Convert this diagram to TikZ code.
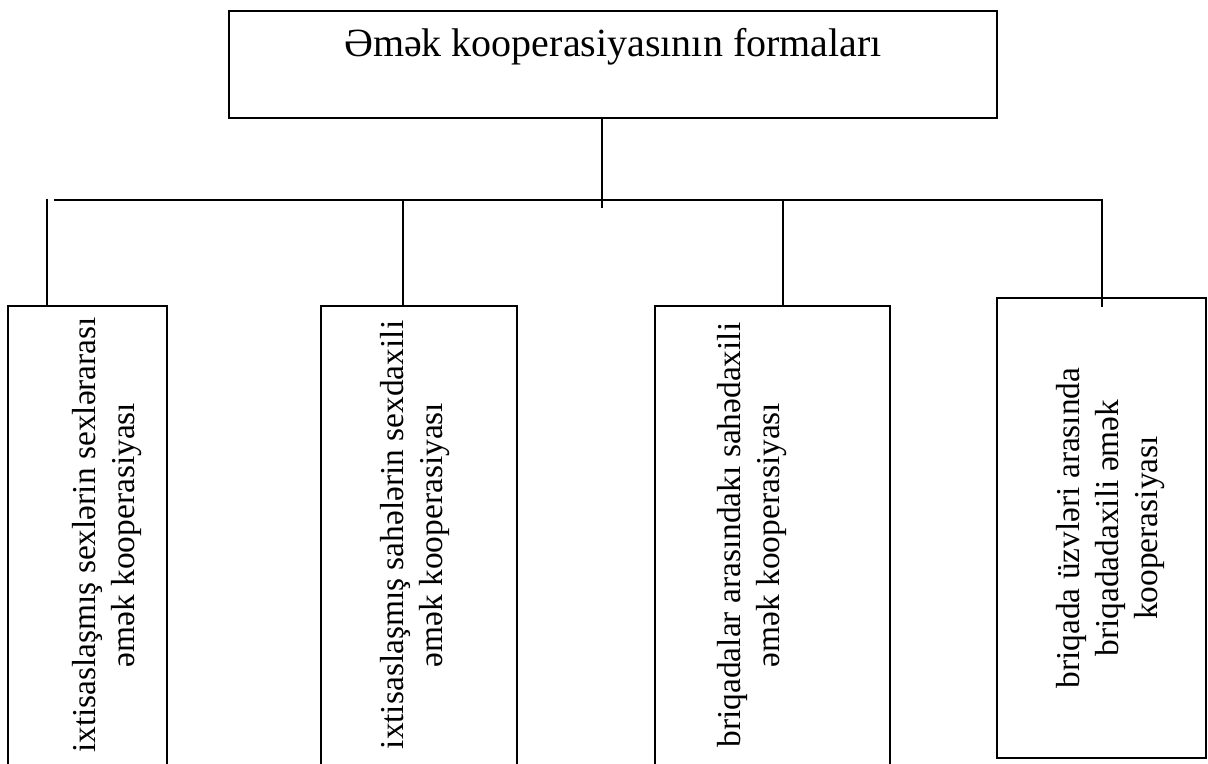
\documentclass[tikz,border=0pt]{standalone}
\usepackage{fontspec}
\setmainfont{Liberation Serif}
\usepackage{tikz}

\begin{document}
\begin{tikzpicture}[x=0.5pt,y=0.5pt,
	box/.style={draw, line width=1pt, inner sep=0pt, minimum height=237pt},
	vtext/.style={rotate=90, align=center, inner sep=0pt, font=\fontsize{16.7pt}{19.5pt}\selectfont},
	link/.style={line width=1pt}]

	\useasboundingbox (0,0) rectangle (1208,764);

	% Title box
	\node[draw, line width=1.2pt, inner xsep=0pt, inner ysep=0pt, minimum width=384pt,
		text height=22.5pt, text depth=31pt, anchor=north,
		font=\fontsize{20pt}{24pt}\selectfont] (title) at (613,754) {Əmək kooperasiyasının formaları};

	% Lower boxes
	\node[box, minimum width=79.5pt] (b1) at (87.5,221) {};
	\node[box, minimum width=98pt] (b2) at (419,221) {};
	\node[box, minimum width=117.5pt] (b3) at (772.5,221) {};
	\node[box, minimum width=104.5pt, minimum height=230pt] (b4) at (1101.5,236) {};

	% Labels
	\node[vtext] (t1) at (107,229) {ixtisaslaşmış sexlərin sexlərarası\\əmək kooperasiyası};
	\node[vtext] (t2) at (415,229) {ixtisaslaşmış sahələrin sexdaxili\\əmək kooperasiyası};
	\node[vtext] (t3) at (752,229) {briqadalar arasındakı sahədaxili\\əmək kooperasiyası};
	\node[vtext] (t4) at (1110,236) {briqada üzvləri arasında\\briqadadaxili əmək\\kooperasiyası};

	% Connectors
	\coordinate (hub) at (602,556);
	\coordinate (busL) at (54,564);
	\coordinate (busR) at (1102,564);
	\coordinate (d1) at (47,565);
	\coordinate (d2) at (403,564);
	\coordinate (d3) at (783,564);
	\coordinate (d4) at (1102,457);

	\draw[link] (title.south -| hub) -- (hub);
	\draw[link] (busL) -- (busR) -- (d4);
	\draw[link] (d1) -- (d1 |- b1.north);
	\draw[link] (d2) -- (d2 |- b2.north);
	\draw[link] (d3) -- (d3 |- b3.north);

\end{tikzpicture}
\end{document}
